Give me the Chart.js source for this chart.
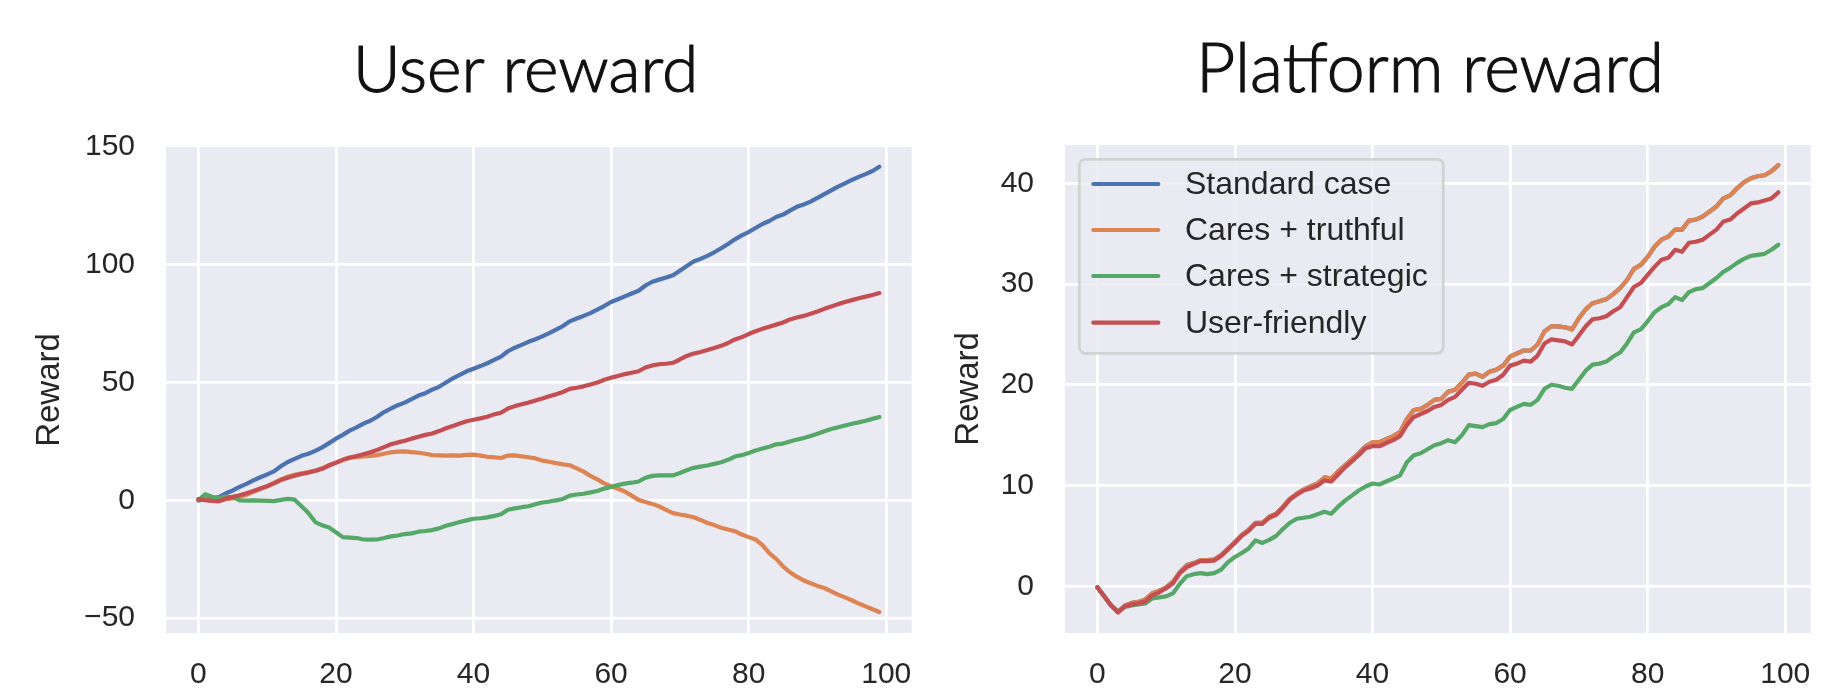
<!DOCTYPE html>
<html>
<head>
<meta charset="utf-8">
<script src="https://cdn.jsdelivr.net/npm/chart.js@4.4.1/dist/chart.umd.min.js"></script>
<style>
  html, body { margin: 0; padding: 0; background: #ffffff; }
  #wrap { position: relative; width: 1848px; height: 696px; overflow: hidden; background: #ffffff; }
  canvas { position: absolute; top: 0; }
  #c1 { left: 0; }
  #c2 { left: 924px; }
</style>
</head>
<body>
<div id="wrap">
  <canvas id="c1" width="924" height="696"></canvas>
  <canvas id="c2" width="924" height="696"></canvas>
</div>
<script>
// ---------------- DATA ----------------
const steps = Array.from({ length: 100 }, (_, i) => i);
const seriesNames = ['Standard case', 'Cares + truthful', 'Cares + strategic', 'User-friendly'];
const seriesColors = ['#4C72B0', '#DD8452', '#55A868', '#C44E52'];

const xTicks = [0, 20, 40, 60, 80, 100];
const xTickLabels = ['0', '20', '40', '60', '80', '100'];
const userYTicks = [-50, 0, 50, 100, 150];
const userYTickLabels = ['\u221250', '0', '50', '100', '150'];
const platformYTicks = [0, 10, 20, 30, 40];
const platformYTickLabels = ['0', '10', '20', '30', '40'];

// User reward
const userStandard = [
  0, 0.4, 0.6, 1.4, 3.0, 4.2, 5.7, 7.0, 8.5, 9.8,
  11.0, 12.3, 14.5, 16.3, 17.6, 18.9, 19.8, 21.0, 22.5, 24.3,
  26.2, 27.8, 29.6, 31.0, 32.6, 33.8, 35.5, 37.5, 39.0, 40.4,
  41.5, 43.0, 44.5, 45.5, 47.0, 48.2, 50.0, 51.8, 53.3, 54.8,
  55.9, 57.0, 58.2, 59.6, 61.0, 63.3, 64.8, 66.0, 67.3, 68.4,
  69.6, 71.0, 72.5, 74.0, 76.0, 77.2, 78.3, 79.5, 81.0, 82.5,
  84.2, 85.4, 86.6, 87.8, 89.0, 91.2, 92.8, 93.7, 94.6, 95.6,
  97.5, 99.5, 101.4, 102.5, 103.8, 105.3, 107.0, 108.8, 110.8, 112.5,
  113.9, 115.6, 117.3, 118.6, 120.3, 121.3, 123.0, 124.6, 125.6, 126.8,
  128.4, 130.0, 131.6, 133.2, 134.6, 136.0, 137.3, 138.5, 139.8, 141.6
];
const userTruthful = [
  0.5, 0.2, -0.1, -0.2, 0.5, 0.8, 1.4, 2.4, 3.6, 4.8,
  6.0, 7.4, 8.9, 10.0, 10.9, 11.5, 12.0, 12.7, 13.6, 14.9,
  16.0, 17.1, 18.0, 18.4, 18.7, 18.9, 19.2, 19.8, 20.4, 20.7,
  20.8, 20.5, 20.2, 19.8, 19.2, 19.1, 19.0, 19.1, 19.0, 19.3,
  19.4, 19.0, 18.5, 18.3, 18.0, 19.0, 19.1, 18.7, 18.3, 17.8,
  16.9, 16.4, 15.8, 15.3, 14.9, 13.6, 12.2, 10.4, 8.9, 7.2,
  6.0, 4.9, 3.8, 2.0, 0.2, -0.7, -1.5, -2.6, -4.0, -5.4,
  -6.0, -6.5, -7.2, -8.3, -9.6, -10.5, -11.6, -12.4, -13.1, -14.5,
  -15.6, -16.6, -19.0, -22.4, -24.8, -28.0, -30.5, -32.4, -34.0, -35.2,
  -36.3, -37.2, -38.6, -40.0, -41.2, -42.4, -43.8, -45.0, -46.2, -47.4
];
const userStrategic = [
  0, 2.6, 1.5, 1.0, 1.6, 1.4, 0.0, -0.1, 0.0, -0.1,
  -0.2, -0.3, 0.2, 0.6, 0.3, -2.5, -5.4, -9.2, -10.6, -11.5,
  -13.5, -15.6, -15.8, -16.0, -16.6, -16.7, -16.6, -16.0, -15.3, -14.9,
  -14.3, -14.0, -13.3, -13.0, -12.6, -11.9, -10.8, -10.0, -9.2, -8.5,
  -7.8, -7.6, -7.2, -6.6, -5.9, -4.0, -3.4, -2.9, -2.5, -1.6,
  -0.9, -0.5, 0.0, 0.6, 2.0, 2.5, 2.8, 3.4, 4.0, 5.0,
  5.7, 6.5, 7.1, 7.5, 8.0, 9.6, 10.4, 10.6, 10.6, 10.6,
  11.6, 12.8, 13.8, 14.3, 14.8, 15.5, 16.2, 17.2, 18.6, 19.2,
  20.1, 21.2, 22.0, 22.8, 23.8, 24.1, 25.0, 25.8, 26.5, 27.3,
  28.3, 29.3, 30.3, 31.0, 31.8, 32.5, 33.1, 33.8, 34.6, 35.4
];
const userFriendly = [
  0.5, 0.1, -0.2, -0.4, 0.8, 1.5, 2.2, 3.0, 4.0, 5.0,
  6.0, 7.2, 8.6, 9.6, 10.5, 11.2, 11.8, 12.5, 13.4, 14.8,
  16.0, 17.2, 18.2, 18.8, 19.6, 20.4, 21.4, 22.6, 23.8, 24.6,
  25.3, 26.2, 27.0, 27.8, 28.4, 29.4, 30.6, 31.6, 32.6, 33.6,
  34.2, 34.8, 35.5, 36.5, 37.2, 39.0, 40.0, 40.8, 41.5, 42.4,
  43.2, 44.2, 45.0, 46.0, 47.3, 47.8, 48.4, 49.2, 50.0, 51.2,
  52.1, 52.8, 53.6, 54.2, 54.8, 56.4, 57.3, 57.8, 58.0, 58.4,
  59.8, 61.3, 62.3, 63.0, 63.8, 64.7, 65.6, 66.8, 68.3, 69.3,
  70.6, 71.8, 72.8, 73.7, 74.6, 75.5, 76.8, 77.6, 78.3, 79.2,
  80.2, 81.3, 82.3, 83.3, 84.2, 85.0, 85.8, 86.5, 87.2, 88.0
];

// Platform reward (standard case lies under the truthful line)
const platformStandard = [
  -0.1, -1.0, -1.9, -2.55, -1.9, -1.65, -1.55, -1.3, -0.7, -0.45,
  -0.1, 0.45, 1.4, 2.1, 2.3, 2.6, 2.6, 2.65, 3.1, 3.75,
  4.4, 5.1, 5.6, 6.3, 6.3, 6.9, 7.2, 7.9, 8.7, 9.2,
  9.6, 9.9, 10.2, 10.8, 10.7, 11.4, 12.0, 12.6, 13.2, 13.9,
  14.3, 14.3, 14.6, 14.9, 15.3, 16.6, 17.5, 17.6, 18.0, 18.5,
  18.6, 19.3, 19.5, 20.2, 21.0, 21.1, 20.8, 21.3, 21.5, 21.9,
  22.8, 23.1, 23.4, 23.4, 24.0, 25.3, 25.8, 25.8, 25.7, 25.5,
  26.6, 27.5, 28.1, 28.3, 28.5, 29.0, 29.6, 30.4, 31.5, 31.9,
  32.7, 33.7, 34.4, 34.7, 35.4, 35.4, 36.3, 36.4, 36.7, 37.2,
  37.7, 38.5, 38.8, 39.5, 40.1, 40.5, 40.7, 40.8, 41.2, 41.8
];
const platformTruthful = [
  -0.1, -1.0, -1.9, -2.55, -1.9, -1.65, -1.55, -1.3, -0.7, -0.45,
  -0.1, 0.45, 1.4, 2.1, 2.3, 2.6, 2.6, 2.65, 3.1, 3.75,
  4.4, 5.1, 5.6, 6.3, 6.3, 6.9, 7.2, 7.9, 8.7, 9.2,
  9.6, 9.9, 10.2, 10.8, 10.7, 11.4, 12.0, 12.6, 13.2, 13.9,
  14.3, 14.3, 14.6, 14.9, 15.3, 16.6, 17.5, 17.6, 18.0, 18.5,
  18.6, 19.3, 19.5, 20.2, 21.0, 21.1, 20.8, 21.3, 21.5, 21.9,
  22.8, 23.1, 23.4, 23.4, 24.0, 25.3, 25.8, 25.8, 25.7, 25.5,
  26.6, 27.5, 28.1, 28.3, 28.5, 29.0, 29.6, 30.4, 31.5, 31.9,
  32.7, 33.7, 34.4, 34.7, 35.4, 35.4, 36.3, 36.4, 36.7, 37.2,
  37.7, 38.5, 38.8, 39.5, 40.1, 40.5, 40.7, 40.8, 41.2, 41.8
];
const platformStrategic = [
  -0.1, -1.0, -1.9, -2.5, -2.05, -1.9, -1.8, -1.7, -1.2, -1.1,
  -1.0, -0.7, 0.25, 1.0, 1.2, 1.3, 1.2, 1.3, 1.65, 2.4,
  2.9, 3.3, 3.75, 4.55, 4.3, 4.6, 5.0, 5.7, 6.3, 6.7,
  6.8, 6.9, 7.15, 7.4, 7.2, 7.9, 8.5, 9.0, 9.5, 9.9,
  10.2, 10.1, 10.4, 10.7, 11.0, 12.3, 13.0, 13.2, 13.6, 14.0,
  14.2, 14.5, 14.3, 15.0, 16.0, 15.9, 15.8, 16.1, 16.2, 16.6,
  17.5, 17.8, 18.1, 18.0, 18.5, 19.6, 20.0, 19.9, 19.7, 19.6,
  20.5, 21.4, 22.0, 22.1, 22.3, 22.8, 23.2, 24.1, 25.2, 25.5,
  26.3, 27.2, 27.7, 28.0, 28.7, 28.4, 29.2, 29.5, 29.6, 30.1,
  30.6, 31.2, 31.6, 32.1, 32.5, 32.8, 32.9, 33.0, 33.4, 33.9
];
const platformFriendly = [
  -0.1, -1.0, -1.9, -2.6, -2.0, -1.8, -1.7, -1.5, -0.9, -0.6,
  -0.2, 0.3, 1.3, 1.9, 2.2, 2.5, 2.5, 2.55, 3.0, 3.65,
  4.3, 5.0, 5.5, 6.2, 6.2, 6.8, 7.1, 7.8, 8.6, 9.1,
  9.5, 9.7, 10.0, 10.5, 10.4, 11.1, 11.8, 12.4, 13.0, 13.7,
  13.9, 13.9, 14.2, 14.5, 14.9, 16.0, 16.8, 17.1, 17.4, 17.8,
  18.0, 18.5, 18.8, 19.5, 20.2, 20.1, 19.9, 20.3, 20.5, 21.0,
  21.9, 22.1, 22.4, 22.3, 22.9, 24.1, 24.5, 24.4, 24.3, 24.0,
  24.9, 25.8, 26.5, 26.6, 26.8, 27.3, 27.7, 28.7, 29.7, 30.1,
  30.9, 31.7, 32.4, 32.6, 33.4, 33.2, 34.1, 34.2, 34.4, 34.9,
  35.4, 36.2, 36.4, 37.0, 37.5, 38.0, 38.1, 38.3, 38.5, 39.1
];

// ---------------- STYLE / PLUGINS ----------------
const TEXT = '#262626';
const TICK_FONT = { family: '"Liberation Sans", Arial, sans-serif', size: 30 };

const bgPlugin = {
  id: 'plotBg',
  beforeDraw(chart) {
    const { ctx, chartArea: a } = chart;
    ctx.save();
    ctx.fillStyle = '#EAEAF2';
    ctx.fillRect(a.left, a.top, a.right - a.left, a.bottom - a.top);
    ctx.restore();
  }
};

const titlePlugin = {
  id: 'figTitle',
  afterDraw(chart, args, o) {
    if (!o || !o.text) return;
    const ctx = chart.ctx;
    ctx.save();
    const fam = 'Lato, "Open Sans", sans-serif';
    const wt = '300 ';
    ctx.font = wt + o.size + 'px ' + fam;
    let size = o.size;
    if (o.width) {
      const w = ctx.measureText(o.text).width;
      size = o.size * o.width / w;
      size = Math.max(o.size * 0.9, Math.min(o.size * 1.1, size));
      ctx.font = wt + size.toFixed(2) + 'px ' + fam;
    }
    ctx.fillStyle = '#111111';
    ctx.strokeStyle = '#111111';
    ctx.lineWidth = 1.1;
    ctx.lineJoin = 'round';
    ctx.textAlign = 'center';
    ctx.textBaseline = 'alphabetic';
    ctx.fillText(o.text, o.x, o.y);
    ctx.strokeText(o.text, o.x, o.y);
    ctx.restore();
  }
};

function roundRect(ctx, x, y, w, h, r) {
  ctx.beginPath();
  ctx.moveTo(x + r, y);
  ctx.lineTo(x + w - r, y);
  ctx.arcTo(x + w, y, x + w, y + r, r);
  ctx.lineTo(x + w, y + h - r);
  ctx.arcTo(x + w, y + h, x + w - r, y + h, r);
  ctx.lineTo(x + r, y + h);
  ctx.arcTo(x, y + h, x, y + h - r, r);
  ctx.lineTo(x, y + r);
  ctx.arcTo(x, y, x + r, y, r);
  ctx.closePath();
}

const legendPlugin = {
  id: 'figLegend',
  afterDraw(chart, args, o) {
    if (!o || !o.show) return;
    const { ctx, chartArea: a } = chart;
    const x = a.left + 14.3, y = a.top + 14.3, w = 364, h = 194;
    ctx.save();
    roundRect(ctx, x, y, w, h, 6);
    ctx.fillStyle = 'rgba(234,234,242,0.8)';
    ctx.fill();
    ctx.lineWidth = 2.8;
    ctx.strokeStyle = 'rgba(204,204,204,0.8)';
    ctx.stroke();
    const rows = [24.7, 70.7, 116.7, 163.4];
    ctx.font = '32px "Liberation Sans", Arial, sans-serif';
    ctx.textAlign = 'left';
    ctx.textBaseline = 'middle';
    chart.data.datasets.forEach((ds, k) => {
      const cy = y + rows[k];
      ctx.beginPath();
      ctx.lineWidth = 4.2;
      ctx.lineCap = 'round';
      ctx.strokeStyle = ds.borderColor;
      ctx.moveTo(x + 14, cy);
      ctx.lineTo(x + 79, cy);
      ctx.stroke();
      ctx.fillStyle = TEXT;
      ctx.fillText(ds.label, x + 105.7, cy + 1);
    });
    ctx.restore();
  }
};

function makeChart(canvas, cfg) {
  return new Chart(canvas, {
    type: 'line',
    data: {
      datasets: cfg.series.map((vals, k) => ({
        label: seriesNames[k],
        data: vals.map((v, i) => ({ x: steps[i], y: v })),
        borderColor: seriesColors[k],
        backgroundColor: seriesColors[k],
        borderWidth: 4.2,
        pointRadius: 0,
        pointHoverRadius: 0,
        tension: 0,
        fill: false,
        borderCapStyle: 'round',
        borderJoinStyle: 'round',
        order: 4 - k
      }))
    },
    options: {
      responsive: false,
      animation: false,
      devicePixelRatio: 1,
      events: [],
      layout: { padding: { top: cfg.top, right: cfg.right, bottom: 0, left: 0 } },
      plugins: {
        legend: { display: false },
        tooltip: { enabled: false },
        figTitle: cfg.title,
        figLegend: { show: cfg.legend }
      },
      scales: {
        x: {
          type: 'linear',
          min: -4.7,
          max: 103.7,
          afterBuildTicks(s) { s.ticks = xTicks.map(v => ({ value: v })); },
          afterFit(s) { s.height = 63; s.paddingLeft = 0; s.paddingRight = 0; },
          grid: { color: '#ffffff', lineWidth: 2.8, drawTicks: false },
          border: { display: false },
          ticks: {
            padding: 24,
            font: TICK_FONT,
            color: TEXT,
            maxRotation: 0,
            autoSkip: false,
            callback: (v, i) => xTickLabels[xTicks.indexOf(v)]
          }
        },
        y: {
          type: 'linear',
          min: cfg.ymin,
          max: cfg.ymax,
          afterBuildTicks(s) { s.ticks = cfg.yTicks.map(v => ({ value: v })); },
          afterFit(s) { s.width = cfg.yWidth; s.paddingTop = 0; s.paddingBottom = 0; },
          grid: {
            color: (c) => (c.tick && c.tick.value >= cfg.ymax) ? 'rgba(0,0,0,0)' : '#ffffff',
            lineWidth: 2.8,
            drawTicks: false
          },
          border: { display: false },
          ticks: {
            padding: 31,
            font: TICK_FONT,
            color: TEXT,
            autoSkip: false,
            callback: (v) => cfg.yTickLabels[cfg.yTicks.indexOf(v)]
          },
          title: {
            display: true,
            text: 'Reward',
            color: TEXT,
            font: { family: '"Liberation Sans", Arial, sans-serif', size: 33, lineHeight: 1 },
            padding: { top: cfg.ylabelPad, bottom: 0 }
          }
        }
      }
    },
    plugins: [bgPlugin, titlePlugin, legendPlugin]
  });
}

makeChart(document.getElementById('c1'), {
  series: [userStandard, userTruthful, userStrategic, userFriendly],
  top: 147, right: 12.3, yWidth: 166,
  ymin: -56.3, ymax: 150,
  yTicks: userYTicks, yTickLabels: userYTickLabels,
  ylabelPad: 33,
  legend: false,
  title: { text: 'User reward', x: 525.5, y: 91.7, size: 67, width: 345.6 }
});

makeChart(document.getElementById('c2'), {
  series: [platformStandard, platformTruthful, platformStrategic, platformFriendly],
  top: 145, right: 37.3, yWidth: 141,
  ymin: -4.64, ymax: 43.8,
  yTicks: platformYTicks, yTickLabels: platformYTickLabels,
  ylabelPad: 28.2,
  legend: true,
  title: { text: 'Platform reward', x: 506, y: 91.7, size: 67, width: 468 }
});
</script>
</body>
</html>
